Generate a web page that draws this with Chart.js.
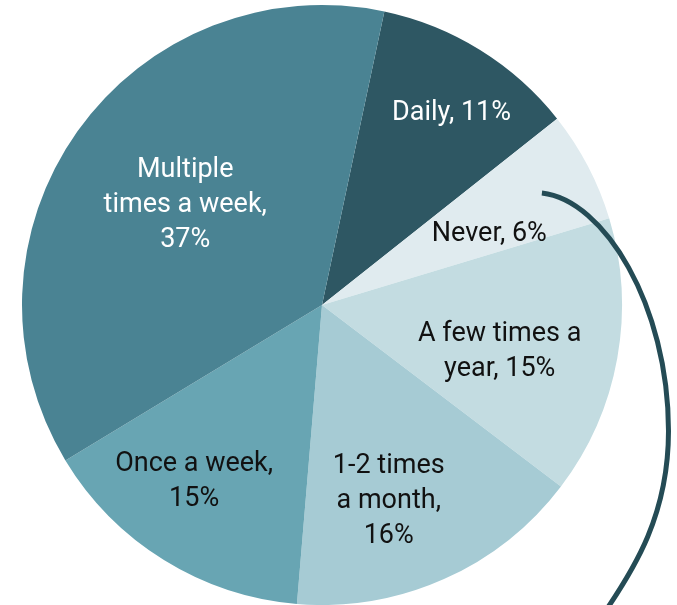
<!DOCTYPE html>
<html>
<head>
<meta charset="utf-8">
<script src="https://cdn.jsdelivr.net/npm/chart.js@4/dist/chart.umd.min.js"></script>
<style>
  html, body { margin: 0; padding: 0; background: #ffffff; }
  #wrap { width: 677px; height: 605px; position: relative; }
</style>
</head>
<body>
<div id="wrap"><canvas id="pie"></canvas></div>
<script>
// Survey answers: how often respondents do it
const categories = ['Daily', 'Never', 'A few times a year', '1-2 times a month', 'Once a week', 'Multiple times a week'];
const shares = [11, 6, 15, 16, 15, 37];
// Wrapped label text for each slice (value is appended from shares)
const labelLines = [
  ['Daily, '],
  ['Never, '],
  ['A few times a', 'year, '],
  ['1-2 times', 'a month,', ''],
  ['Once a week,', ''],
  ['Multiple', 'times a week,', '']
];
const sliceColors = ['#2e5763', '#e0ebef', '#c3dce1', '#a6cbd4', '#68a5b3', '#4a8393'];
const textColors = ['#ffffff', '#111111', '#111111', '#111111', '#111111', '#ffffff'];
// label placement: [radius fraction, angle shift in degrees]
const labelPlace = [[0.78, 1.8], [0.61, 3.7], [0.61, 3.6], [0.68, 4.9], [0.72, 4.5], [0.57, 1.5]];

const FONT = '27px Roboto, "Liberation Sans", sans-serif';
const LINE_H = 35;

const sliceLabels = {
  id: 'sliceLabels',
  afterDatasetsDraw(chart) {
    const ctx = chart.ctx;
    const meta = chart.getDatasetMeta(0);
    ctx.save();
    ctx.font = FONT;
    ctx.textAlign = 'center';
    ctx.textBaseline = 'middle';
    meta.data.forEach((arc, i) => {
      const p = arc.getProps(['x', 'y', 'startAngle', 'endAngle', 'outerRadius'], true);
      const mid = (p.startAngle + p.endAngle) / 2 + labelPlace[i][1] * Math.PI / 180;
      const r = p.outerRadius * labelPlace[i][0];
      const x = p.x + Math.cos(mid) * r;
      const y = p.y + Math.sin(mid) * r + 3;
      const lines = labelLines[i].slice();
      lines[lines.length - 1] += shares[i] + '%';
      ctx.fillStyle = textColors[i];
      const top = y - (lines.length - 1) * LINE_H / 2;
      lines.forEach((t, k) => ctx.fillText(t, x, top + k * LINE_H));
    });
    ctx.restore();
  }
};

// curved callout line drawn from the "Never" slice, sized by the pie radius
const callout = {
  id: 'callout',
  afterDraw(chart) {
    const arc = chart.getDatasetMeta(0).data[0];
    const p = arc.getProps(['x', 'y', 'outerRadius'], true);
    const R = p.outerRadius;
    const P = (a, b) => [p.x + a * R, p.y + b * R];
    const ctx = chart.ctx;
    ctx.save();
    ctx.strokeStyle = '#244b55';
    ctx.lineWidth = 5;
    ctx.lineCap = 'butt';
    ctx.beginPath();
    ctx.moveTo(...P(0.733, -0.373));
    ctx.bezierCurveTo(...P(0.94, -0.35), ...P(1.155, 0.0), ...P(1.155, 0.42));
    ctx.bezierCurveTo(...P(1.155, 0.70), ...P(1.04, 0.88), ...P(0.945, 1.02));
    ctx.stroke();
    ctx.restore();
  }
};

new Chart(document.getElementById('pie'), {
  type: 'pie',
  data: {
    labels: categories,
    datasets: [{
      data: shares,
      backgroundColor: sliceColors,
      borderWidth: 0
    }]
  },
  options: {
    responsive: true,
    maintainAspectRatio: false,
    animation: false,
    rotation: 12,
    layout: { padding: { top: 5, bottom: 0, left: 0, right: 33 } },
    plugins: {
      legend: { display: false },
      tooltip: { enabled: false }
    }
  },
  plugins: [sliceLabels, callout]
});
</script>
</body>
</html>
